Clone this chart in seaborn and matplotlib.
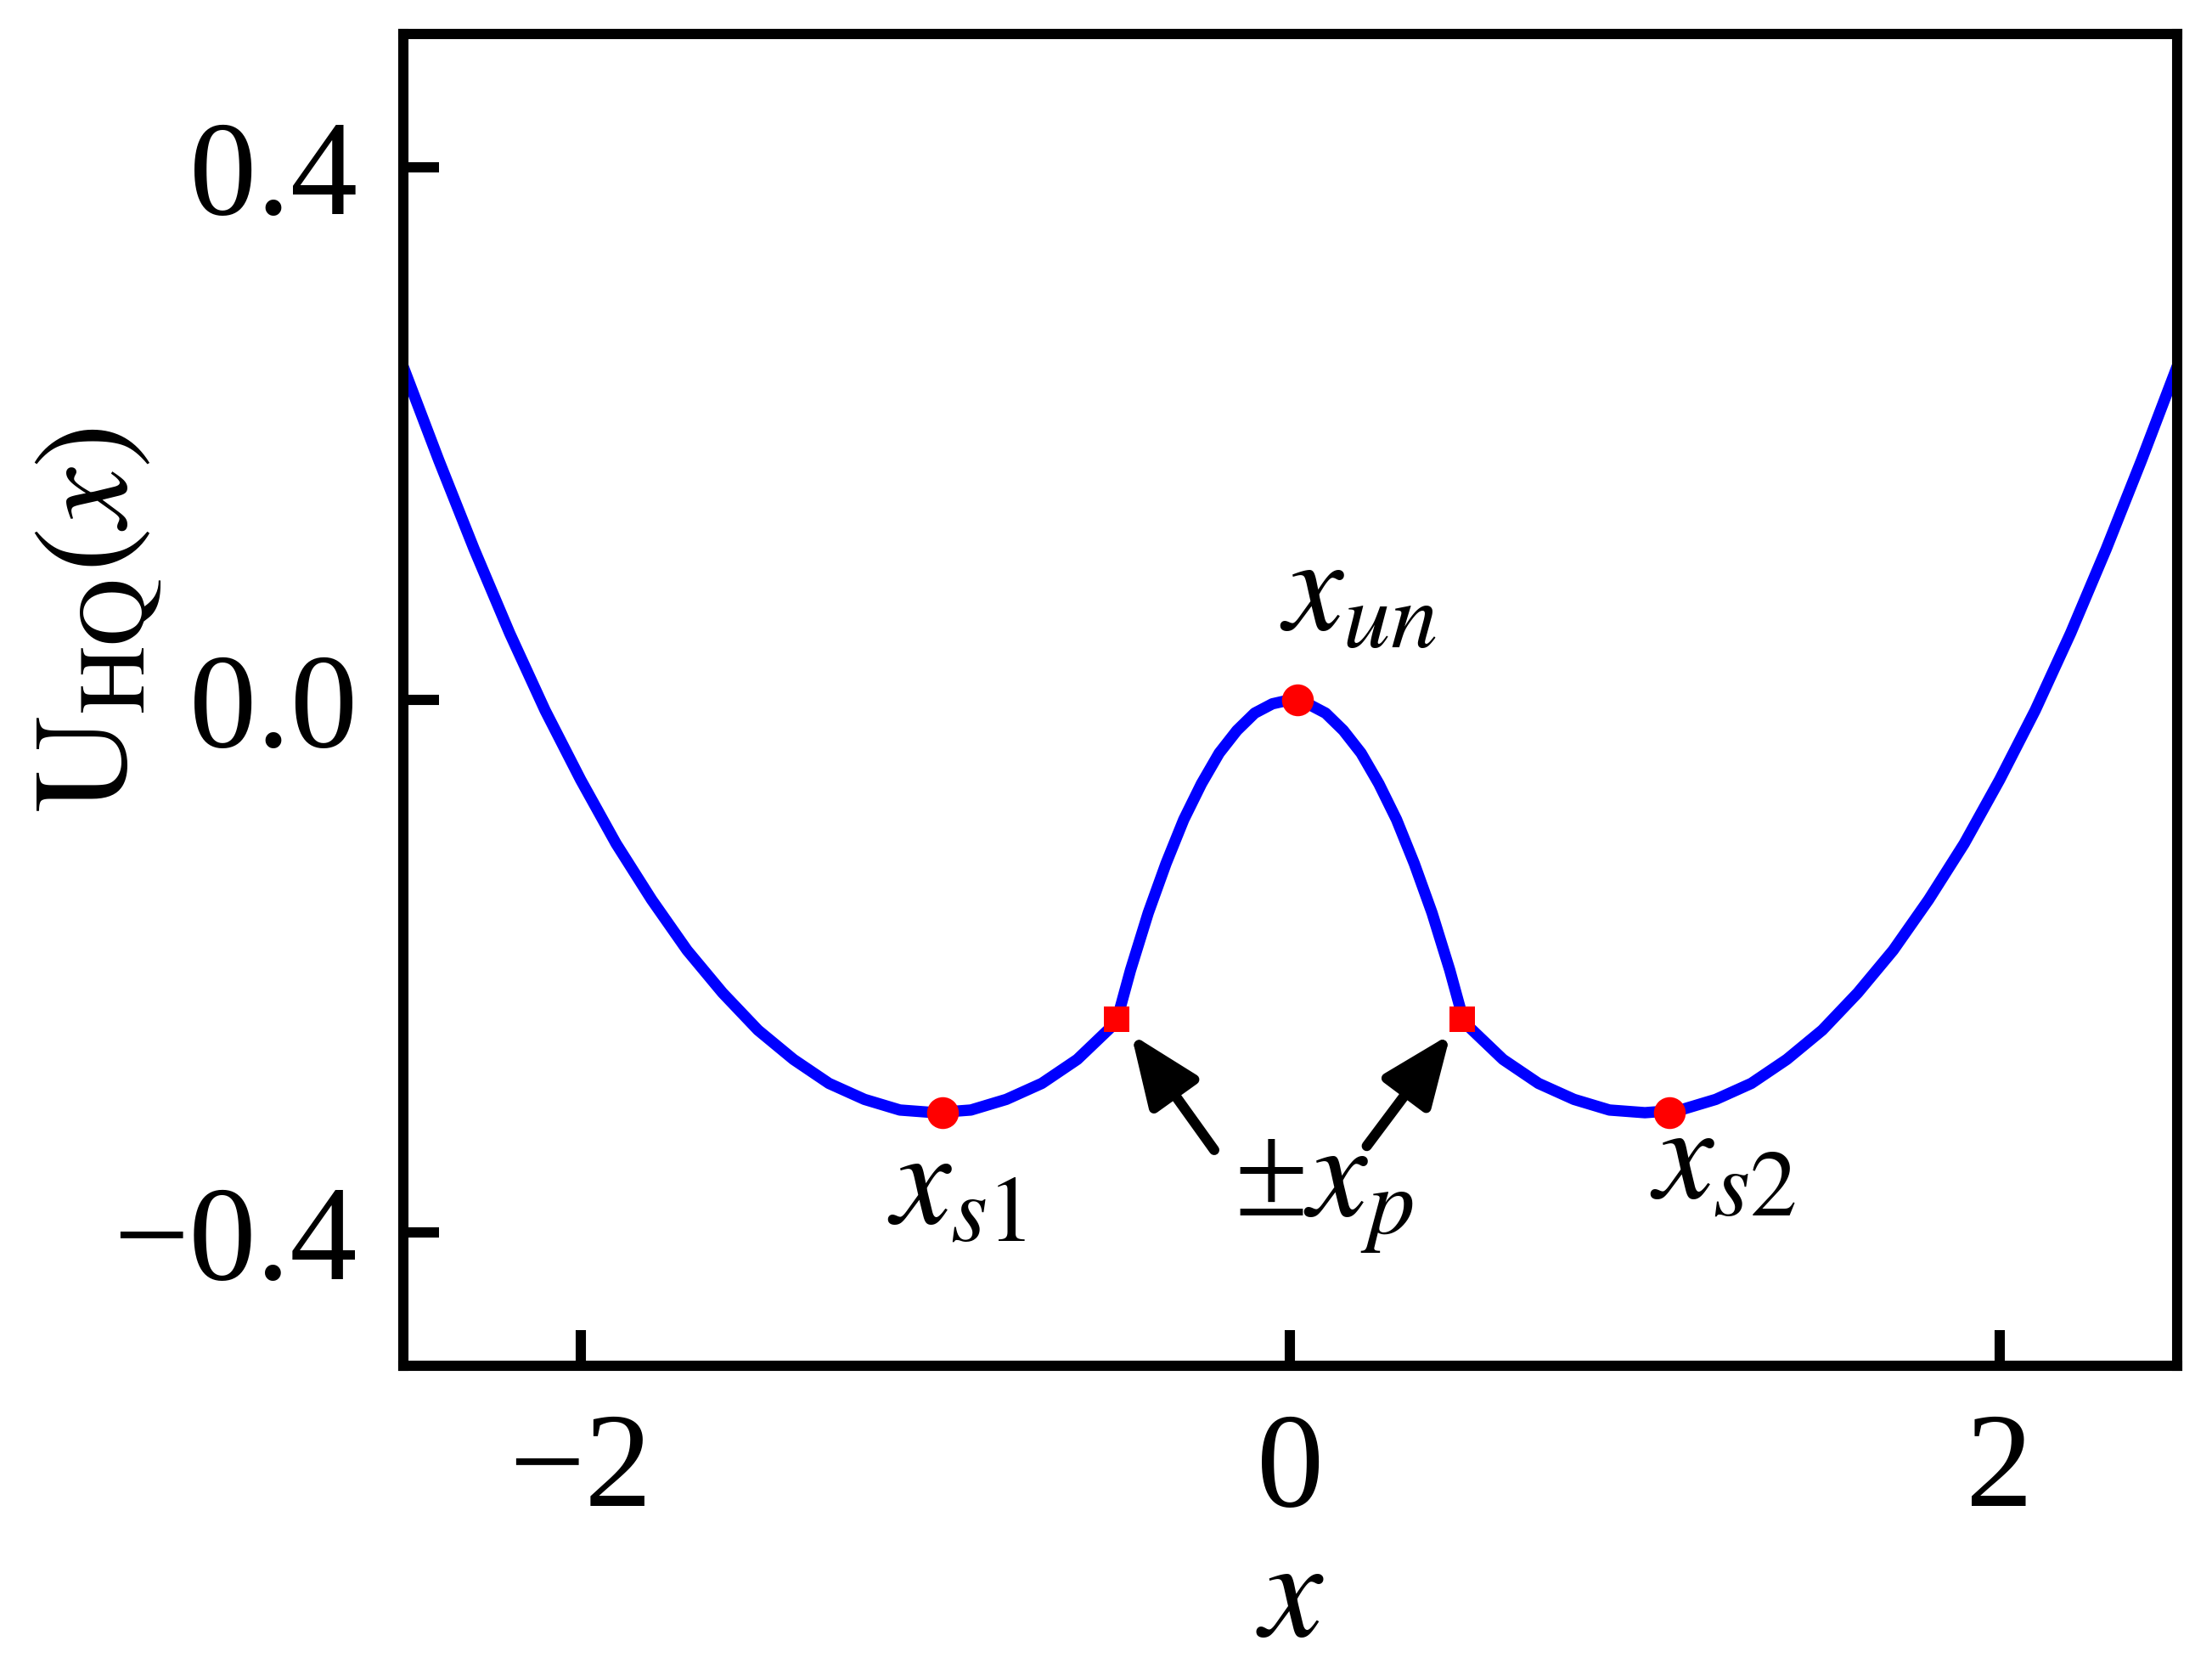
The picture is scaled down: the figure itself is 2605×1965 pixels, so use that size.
import matplotlib
matplotlib.use("Agg")
import matplotlib.pyplot as plt
import seaborn as sns

# potential curve U_HQ(x)
x_vals = [-2.5, -2.4, -2.3, -2.2, -2.1, -2.0, -1.9, -1.8, -1.7, -1.6,
          -1.5, -1.4, -1.3, -1.2, -1.1, -1.0, -0.9, -0.8, -0.7, -0.6,
          -0.49, -0.45, -0.4, -0.35, -0.3, -0.25, -0.2, -0.15, -0.1, -0.05,
          0.0,
          0.05, 0.1, 0.15, 0.2, 0.25, 0.3, 0.35, 0.4, 0.45, 0.49,
          0.6, 0.7, 0.8, 0.9, 1.0, 1.1, 1.2, 1.3, 1.4, 1.5,
          1.6, 1.7, 1.8, 1.9, 2.0, 2.1, 2.2, 2.3, 2.4, 2.5]
u_vals = [0.25, 0.18, 0.113, 0.05, -0.008, -0.06, -0.108, -0.15, -0.188, -0.22,
          -0.248, -0.27, -0.288, -0.30, -0.308, -0.31, -0.308, -0.30, -0.288, -0.27,
          -0.242, -0.203, -0.16, -0.123, -0.09, -0.063, -0.04, -0.023, -0.01, -0.003,
          0.0,
          -0.003, -0.01, -0.023, -0.04, -0.063, -0.09, -0.123, -0.16, -0.203, -0.242,
          -0.27, -0.288, -0.30, -0.308, -0.31, -0.308, -0.30, -0.288, -0.27, -0.248,
          -0.22, -0.188, -0.15, -0.108, -0.06, -0.008, 0.05, 0.113, 0.18, 0.25]

# marked points
dot_x = [-0.98, 0.02, 1.07]
dot_u = [-0.31, 0.0, -0.31]
sq_x = [-0.49, 0.485]
sq_u = [-0.24, -0.24]

xticks = [-2, 0, 2]
xticklabels = ["\u22122", "0", "2"]
yticks = [-0.4, 0.0, 0.4]
yticklabels = ["\u22120.4", "0.0", "0.4"]

sns.set_style("ticks")
plt.rcParams["font.family"] = ["Liberation Serif", "DejaVu Serif"]
plt.rcParams["mathtext.fontset"] = "stix"
plt.rcParams["text.color"] = "black"
plt.rcParams["axes.labelcolor"] = "black"

fig = plt.figure(figsize=(2605 / 300, 1965 / 300), dpi=300)
ax = fig.add_axes([0.1823, 0.1817, 0.8019, 0.7980])

sns.lineplot(x=x_vals, y=u_vals, color="#0000ff", lw=3.2, ax=ax)
sns.scatterplot(x=dot_x, y=dot_u, color="#ff0000", marker="o", s=81,
                linewidth=0, ax=ax, zorder=5)
sns.scatterplot(x=sq_x, y=sq_u, color="#ff0000", marker="s", s=55,
                linewidth=0, ax=ax, zorder=5)

ax.set_xlim(-2.5, 2.5)
ax.set_ylim(-0.5, 0.5)
ax.set_xticks(xticks)
ax.set_xticklabels(xticklabels)
ax.set_yticks(yticks)
ax.set_yticklabels(yticklabels)
ax.tick_params(direction="in", length=10, width=2.9, labelsize=38, pad=13,
               top=False, right=False, color="k", labelcolor="k")
for s in ax.spines.values():
    s.set_visible(True)
    s.set_linewidth(2.9)
    s.set_color("k")

ax.set_xlabel(r"$x$", fontsize=40)
ax.xaxis.set_label_coords(0.5, -0.129)
ax.set_ylabel(r"$\mathrm{U}_{\mathrm{HQ}}(x)$", fontsize=38)
ax.yaxis.set_label_coords(-0.135, 0.56)

# labels of the special points
ax.text(-0.03, 0.053, r"$x_{un}$", fontsize=38, ha="left", va="baseline")
ax.text(-1.136, -0.393, r"$x_{s1}$", fontsize=38, ha="left", va="baseline")
ax.text(-0.159, -0.387, "\u00b1" + r"$x_p$", fontsize=38, ha="left", va="baseline")
ax.text(1.014, -0.374, r"$x_{s2}$", fontsize=38, ha="left", va="baseline")

arrow = dict(arrowstyle="-|>,head_length=0.85,head_width=0.35", mutation_scale=20,
             lw=2.9, color="k", shrinkA=0, shrinkB=0)
ax.annotate("", xy=(-0.448, -0.251), xytext=(-0.214, -0.338), arrowprops=arrow)
ax.annotate("", xy=(0.452, -0.251), xytext=(0.216, -0.335), arrowprops=arrow)

fig.savefig("out.png", dpi=300)
